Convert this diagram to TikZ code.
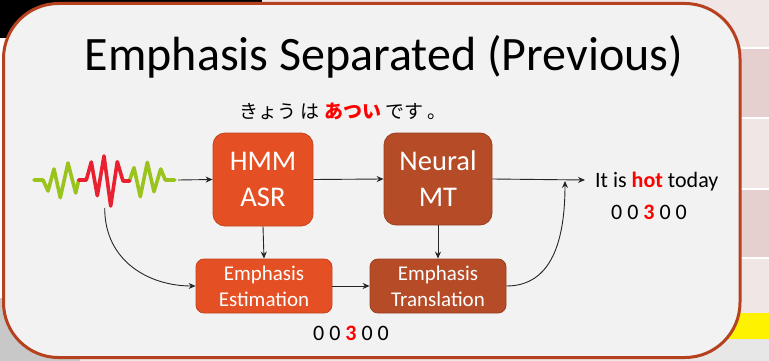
\documentclass[tikz,border=0pt]{standalone}
\usepackage{fontspec}
\setmainfont{Carlito}
\newfontfamily\jp{Noto Sans CJK JP}
\usetikzlibrary{arrows.meta}
\definecolor{framec}{HTML}{B5411E}
\definecolor{panel}{HTML}{F2F2F2}
\definecolor{orng}{HTML}{E45023}
\definecolor{orngd}{HTML}{C4451F}
\definecolor{brwn}{HTML}{B54B27}
\definecolor{brwnd}{HTML}{99401F}
\definecolor{wgreen}{HTML}{9BC31E}
\definecolor{wred}{HTML}{E8202F}
\definecolor{txtred}{HTML}{FF0000}
\definecolor{linec}{HTML}{262626}
\definecolor{pinkA}{HTML}{F0E6E6}
\definecolor{pinkB}{HTML}{E6CFCF}
\definecolor{grayc}{HTML}{C8C8C8}
\begin{document}
\begin{tikzpicture}[x=1pt,y=-1pt,
  bigbox/.style={rounded corners=12pt, draw, line width=0.8pt, text=white, align=center,
    font=\fontsize{28.5}{36}\selectfont, inner sep=0pt},
  smallbox/.style={rounded corners=8pt, draw, line width=0.8pt, text=white, align=center,
    font=\fontsize{21}{26}\selectfont, minimum width=136pt, minimum height=54pt, inner sep=0pt},
  arr/.style={draw=linec, line width=0.9pt, -{Stealth[length=7pt,width=6pt]}},
  wave/.style={line width=3.6pt, line cap=round, line join=round},
  txt/.style={font=\fontsize{22}{26}\selectfont, inner sep=0pt}
]
\useasboundingbox (0,0) rectangle (769,361);
% outside background
\fill[pinkA] (0,0) rectangle (769,361);
\fill[white] (0,38) rectangle (60,361);
\fill[black] (0,0) rectangle (262,38);
\fill[pinkB] (741,49) rectangle (769,117);
\fill[pinkB] (741,190) rectangle (769,257);
\fill[white] (741,47) rectangle (769,49);
\fill[white] (741,117) rectangle (769,119);
\fill[white] (741,188) rectangle (769,190);
\fill[white] (741,257) rectangle (769,259);
\fill[yellow] (680,313) rectangle (769,339);
\fill[panel!90!gray] (680,339) rectangle (769,361);
\fill[grayc] (0,298) rectangle (80,361);
% frame
\draw[line width=3pt, draw=framec, fill=panel, rounded corners=55pt] (3.5,3.5) rectangle (740,357.5);
% title
\node[font=\fontsize{48}{52}\selectfont, inner sep=0pt, anchor=base] (title) at (384,71) {Emphasis Separated (Previous)};
% japanese
\node[font=\jp\fontsize{19}{22}\selectfont, inner sep=0pt] (ja) at (343,111) {きょう は {\color{txtred}\bfseries あつい} です 。};
% waveform
\draw[wave, wgreen] (34,180) -- (43,180) -- (48,191) -- (54,169) -- (60.3,197.7) -- (68,163) -- (75.7,193) -- (78.7,180);
\draw[wave, wgreen] (129.7,180) -- (134,167.7) -- (140.3,196.7) -- (147.3,162.3) -- (154,191.7) -- (160.7,169) -- (165.3,180) -- (174.7,180);
\draw[wave, wred] (78.7,180) -- (86.3,180) -- (91.3,162) -- (97.3,195.7) -- (104,156) -- (110.7,206) -- (117.3,161.7) -- (123,181) -- (129.7,181);
\coordinate (wout) at (178,180);
\coordinate (wbot) at (104.7,208);
% boxes
\node[bigbox, fill=orng, draw=orngd, minimum width=100pt, minimum height=93pt] (hmm) at (263,179.5) {HMM\\ASR};
\node[bigbox, fill=brwn, draw=brwnd, minimum width=108pt, minimum height=92pt] (nmt) at (438,179) {Neural\\MT};
\node[smallbox, fill=orng, draw=orngd] (est) at (264,286) {Emphasis\\Estimation};
\node[smallbox, fill=brwn, draw=brwnd] (trn) at (438,286) {Emphasis\\Translation};
% output texts
\coordinate (tip) at (585,180);
\coordinate (join) at (565,181);
\node[txt, anchor=base west] (out) at (595,187) {It is {\color{txtred}\bfseries hot} today};
\node[txt] (num1) at (649,212) {0 0 {\color{txtred}\bfseries 3} 0 0};
\node[txt] (num2) at (351,333) {0 0 {\color{txtred}\bfseries 3} 0 0};
% connectors
\draw[arr] (wout) -- (hmm.west);
\draw[arr] (hmm.east) -- (nmt.west);
\draw[arr] (nmt.east) -- (tip);
\draw[arr] (hmm.south) -- (est.north);
\draw[arr] (nmt.south) -- (trn.north);
\draw[arr] (est.east) -- (trn.west);
\draw[arr] (wbot) .. controls (104.7,262) and (150,286) .. (est.west);
\draw[arr] (trn.east) .. controls (552,286) and (565,240) .. (join);
\end{tikzpicture}
\end{document}
